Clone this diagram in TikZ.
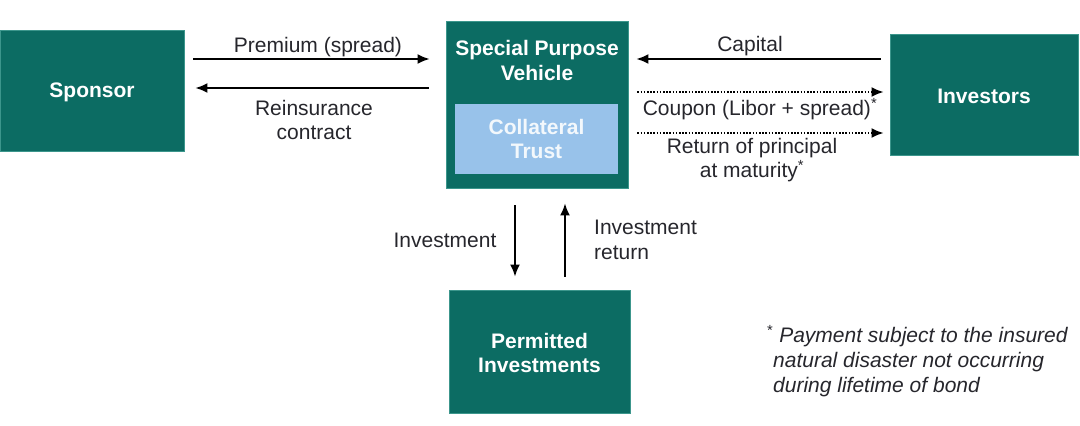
\documentclass[tikz,border=0pt]{standalone}
\usepackage{fontspec}
\setmainfont{Liberation Sans}
\usepackage{xcolor}
\usetikzlibrary{positioning,arrows.meta}
\definecolor{boxteal}{RGB}{12,108,99}
\definecolor{boxedge}{RGB}{60,150,140}
\definecolor{trustblue}{RGB}{152,194,234}
\definecolor{textgray}{RGB}{38,38,44}

\begin{document}
\begin{tikzpicture}[
  x=1pt, y=-1pt,
  font=\fontsize{21}{24.5}\selectfont,
  party/.style={fill=boxteal, draw=boxedge, line width=.8pt, text=white, align=center, inner sep=0pt, font=\fontsize{21}{24.5}\selectfont\bfseries},
  trustbox/.style={fill=trustblue, draw=none, text=white!88!trustblue, align=center, inner sep=0pt, font=\fontsize{21}{24.5}\selectfont\bfseries},
  flowlabel/.style={text=textgray, align=center, inner sep=0pt},
  arrow/.style={-{Latex[length=12pt,width=10pt]}, draw=black, line width=2pt},
  dotarrow/.style={arrow, dash pattern=on 1.6pt off 1.6pt}
]
\useasboundingbox (0,0) rectangle (1080,426);

\node[party, minimum width=184pt, minimum height=121pt] (sponsor) at (92,90.5) {};
\node[party, fill=none, draw=none] (sponsorname) at (92,92.5) {Sponsor};
\node[party, minimum width=182pt, minimum height=167pt] (spv) at (537,104.5) {};
\node[party, fill=none, draw=none] (spvname) at (537,60.5) {Special Purpose\\Vehicle};
\node[trustbox, minimum width=163pt, minimum height=70pt] (trust) at (536.5,139) {Collateral\\Trust};
\node[party, minimum width=188pt, minimum height=121pt] (investors) at (984,94.5) {};
\node[party, fill=none, draw=none] (investorsname) at (984,96.5) {Investors};
\node[party, minimum width=181pt, minimum height=123pt] (permitted) at (539.5,351.5) {};
\node[party, fill=none, draw=none] (permittedname) at (539.5,353) {Permitted\\Investments};

% sponsor <-> spv
\draw[arrow, shorten <=9pt, shorten >=16pt] (sponsor.east |- 0,59) -- (spv.west |- 0,59);
\draw[arrow, shorten <=17pt, shorten >=11pt] (spv.west |- 0,88) -- (sponsor.east |- 0,88);
\node[flowlabel] (premium) at (318,47) {Premium (spread)};
\node[flowlabel] (reins) at (314,120) {Reinsurance\\contract};

% investors <-> spv
\draw[arrow, shorten <=9pt, shorten >=8pt] (investors.west |- 0,59) -- (spv.east |- 0,59);
\draw[dotarrow, shorten <=9pt, shorten >=6pt] (spv.east |- 0,92) -- (investors.west |- 0,92);
\draw[dotarrow, shorten <=9pt, shorten >=6pt] (spv.east |- 0,133) -- (investors.west |- 0,133);
\node[flowlabel] (capital) at (750,46) {Capital};
\node[flowlabel] (coupon) at (760,109) {Coupon (Libor + spread)\textsuperscript{*}};
\node[flowlabel] (principal) at (752,160) {Return of principal\\at maturity\textsuperscript{*}};

% spv <-> permitted investments
\draw[arrow, shorten <=17pt, shorten >=13pt] (spv.south -| 515,0) -- (permitted.north -| 515,0);
\draw[arrow, shorten <=13pt, shorten >=15pt] (permitted.north -| 565,0) -- (spv.south -| 565,0);
\node[flowlabel] (invest) at (445,240) {Investment};
\node[flowlabel, anchor=west, align=left] (investret) at (594,240) {Investment\\return};

% footnote
\node[flowlabel, anchor=north west, align=left, font=\fontsize{21}{25}\selectfont\itshape] (note) at (767,325)
  {\textsuperscript{\upshape*} Payment subject to the insured\\\hspace*{6pt}natural disaster not occurring\\\hspace*{6pt}during lifetime of bond};
\end{tikzpicture}
\end{document}
